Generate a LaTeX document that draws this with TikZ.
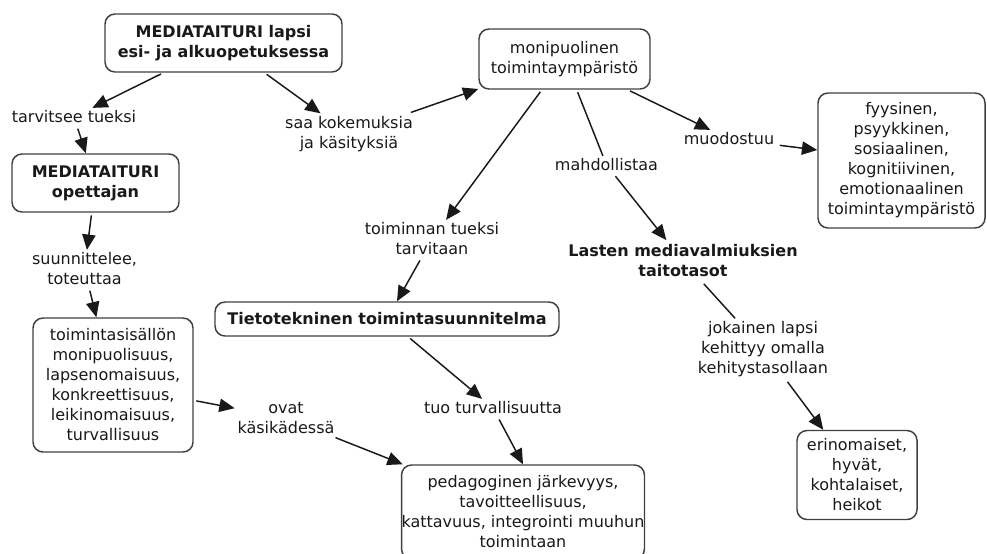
\documentclass[tikz,border=0pt]{standalone}
\usepackage{fontspec}
\setmainfont{DejaVu Sans}
\usetikzlibrary{arrows.meta}
\begin{document}
\begin{tikzpicture}[x=0.75pt,y=-0.75pt,
  every node/.style={font=\fontsize{12}{15}\selectfont, align=center, text=black!90},
  concept/.style={draw=black!75, line width=1.1pt, rounded corners=7.5pt, inner sep=0pt},
  sz/.style n args={2}{minimum width=#1*0.75pt, minimum height=#2*0.75pt},
  linkphrase/.style={inner sep=2pt},
  heavy/.style={font=\fontsize{12}{15}\selectfont\bfseries},
  conn/.style={line width=1.1pt, draw=black!90, shorten <=2pt},
  arr/.style={conn, -{Triangle[length=11.5pt,width=10pt]}}]

\useasboundingbox (0,0) rectangle (987,553);
\clip (0,0) rectangle (987,553);

% concepts
\node[concept, heavy, sz={237}{58}] (top) at (223.5,43) {MEDIATAITURI lapsi\\esi- ja alkuopetuksessa};
\node[concept, sz={171}{60}] (moni) at (564.5,59) {monipuolinen\\toimintaympäristö};
\node[concept, sz={167}{135}] (fyys) at (901.5,160.5) {fyysinen,\\psyykkinen,\\sosiaalinen,\\kognitiivinen,\\emotionaalinen\\toimintaympäristö};
\node[concept, heavy, sz={167}{58}] (opett) at (95.5,183) {MEDIATAITURI\\opettajan};
\node[concept, sz={160}{134}] (sisal) at (113,385) {toimintasisällön\\monipuolisuus,\\lapsenomaisuus,\\konkreettisuus,\\leikinomaisuus,\\turvallisuus};
\node[concept, heavy, sz={344}{34}] (tieto) at (387,319) {Tietotekninen toimintasuunnitelma};
\node[concept, sz={216}{94}] (peda) at (523,512) {pedagoginen järkevyys,\\tavoitteellisuus,\\kattavuus, integrointi muuhun\\toimintaan};
\node[concept, sz={120}{89}] (erin) at (857,475) {erinomaiset,\\hyvät,\\kohtalaiset,\\heikot};
\node[heavy] (lasten) at (683,261) {Lasten mediavalmiuksien\\taitotasot};

% linking phrases
\node[linkphrase] (tarv) at (74,117) {tarvitsee tueksi};
\node[linkphrase] (saa) at (349,134) {saa kokemuksia\\ja käsityksiä};
\node[linkphrase] (muod) at (729,139) {muodostuu};
\node[linkphrase] (mahd) at (606.5,165) {mahdollistaa};
\node[linkphrase] (toim) at (432,239) {toiminnan tueksi\\tarvitaan};
\node[linkphrase] (suun) at (84.5,269) {suunnittelee,\\toteuttaa};
\node[linkphrase] (ovat) at (286,418) {ovat\\käsikädessä};
\node[linkphrase] (tuo) at (493,408) {tuo turvallisuutta};
\node[linkphrase] (jok) at (763,349) {jokainen lapsi\\kehittyy omalla\\kehitystasollaan};

% connectors
\draw[arr] (top) -- (tarv);
\draw[arr] (tarv) -- (opett);
\draw[arr] (top) -- (saa);
\draw[arr] (saa) -- (moni);
\draw[arr] (moni) -- (muod);
\draw[arr] (muod) -- (fyys);
\draw[conn] (moni) -- (mahd);
\draw[arr] (mahd) -- (lasten);
\draw[arr] (moni) -- (toim);
\draw[arr] (toim) -- (tieto);
\draw[arr] (tieto) -- (tuo);
\draw[arr] (tuo) -- (peda.north);
\draw[arr] (sisal) -- (ovat);
\draw[arr] (ovat) -- (peda);
\draw[arr] (opett) -- (suun);
\draw[arr] (suun) -- (sisal);
\draw[conn] (lasten) -- (jok);
\draw[arr] (jok) -- (erin);
\end{tikzpicture}
\end{document}
